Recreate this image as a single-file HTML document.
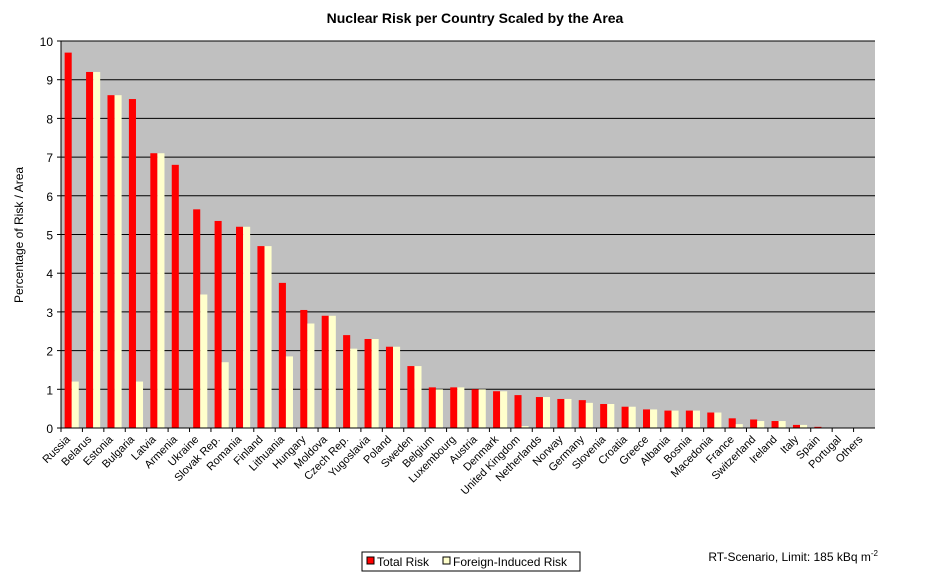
<!DOCTYPE html>
<html><head><meta charset="utf-8"><style>
body{margin:0;background:#fff;font-family:"Liberation Sans",Arial,sans-serif;}
svg text{font-family:"Liberation Sans",Arial,sans-serif;}
</style></head><body>
<svg id="chart" width="951" height="583" xmlns="http://www.w3.org/2000/svg">
<text x="475" y="23" text-anchor="middle" font-size="14" font-weight="bold">Nuclear Risk per Country Scaled by the Area</text>
<rect x="61" y="41" width="814" height="387" fill="#c0c0c0"/>
<g id="grid"></g><g id="bars"></g><g id="axes"></g>
<text transform="translate(23,235) rotate(-90)" text-anchor="middle" font-size="12">Percentage of Risk / Area</text>
<g>
<rect x="362" y="552" width="218" height="19" fill="#fff" stroke="#000"/>
<rect x="367" y="557" width="7" height="7" fill="#ff0000" stroke="#000"/>
<text x="377" y="566" font-size="12">Total Risk</text>
<rect x="443" y="557" width="7" height="7" fill="#ffffcc" stroke="#000"/>
<text x="453" y="566" font-size="12">Foreign-Induced Risk</text>
</g>
<text x="878" y="561" text-anchor="end" font-size="12">RT-Scenario, Limit: 185 kBq m<tspan dy="-5" font-size="8">-2</tspan></text>
</svg>
<script>
const categories=["Russia","Belarus","Estonia","Bulgaria","Latvia","Armenia","Ukraine","Slovak Rep.","Romania","Finland","Lithuania","Hungary","Moldova","Czech Rep.","Yugoslavia","Poland","Sweden","Belgium","Luxembourg","Austria","Denmark","United Kingdom","Netherlands","Norway","Germany","Slovenia","Croatia","Greece","Albania","Bosnia","Macedonia","France","Switzerland","Ireland","Italy","Spain","Portugal","Others"];
const totalRisk=[9.7,9.2,8.6,8.5,7.1,6.8,5.65,5.35,5.2,4.7,3.75,3.05,2.9,2.4,2.3,2.1,1.6,1.05,1.05,1.0,0.95,0.85,0.8,0.75,0.72,0.62,0.55,0.48,0.45,0.45,0.4,0.25,0.22,0.18,0.08,0.03,0,0];
const foreignRisk=[1.2,9.2,8.6,1.2,7.1,0,3.45,1.7,5.2,4.7,1.85,2.7,2.9,2.05,2.3,2.1,1.6,1.0,1.05,1.0,0.95,0.05,0.8,0.75,0.65,0.62,0.55,0.48,0.45,0.45,0.4,0.1,0.18,0.18,0.08,0.01,0,0];
const yTicks=[0,1,2,3,4,5,6,7,8,9,10];
const NS="http://www.w3.org/2000/svg";
const L=61,R=875,T=41,B=428,yMax=10;
const band=(R-L)/categories.length;
const y=v=>B-(v/yMax)*(B-T);
const x=i=>L+i*band;
function mk(tag,attrs,parent){const e=document.createElementNS(NS,tag);for(const k in attrs)e.setAttribute(k,attrs[k]);parent.appendChild(e);return e;}
const grid=document.getElementById('grid'),bars=document.getElementById('bars'),axes=document.getElementById('axes');
yTicks.forEach(t=>{
 if(t>0){const g=mk('line',{x1:L,x2:R,y1:y(t),y2:y(t),stroke:'#000','stroke-width':1},grid);
 
 }
 const tk=mk('line',{x1:L-4,x2:L,y1:y(t),y2:y(t),stroke:'#000'},axes);
 
 
 const lb=mk('text',{x:L-8,y:y(t)+5,'text-anchor':'end','font-size':12},axes);
 lb.textContent=t;
 
 
});
const bw=band*0.33;
categories.forEach((c,i)=>{
 const cx=x(i)+band/2;
 const r1=mk('rect',{x:cx-bw,y:y(totalRisk[i]),width:bw,height:B-y(totalRisk[i]),fill:'#ff0000'},bars);
 
 
 const r2=mk('rect',{x:cx,y:y(foreignRisk[i]),width:bw,height:B-y(foreignRisk[i]),fill:'#ffffcc'},bars);
 
 
 const tk=mk('line',{x1:x(i),x2:x(i),y1:B,y2:B+4,stroke:'#000'},axes);
 
 
 const lb=mk('text',{transform:`translate(${cx-1},${B+12}) rotate(-45)`,'text-anchor':'end','font-size':11},axes);
 lb.textContent=c;
 
 
});
const ax=mk('line',{x1:L,x2:L,y1:T,y2:B,stroke:'#000'},axes);


const bx=mk('line',{x1:L,x2:R,y1:B,y2:B,stroke:'#000'},axes);


</script>
</body></html>
